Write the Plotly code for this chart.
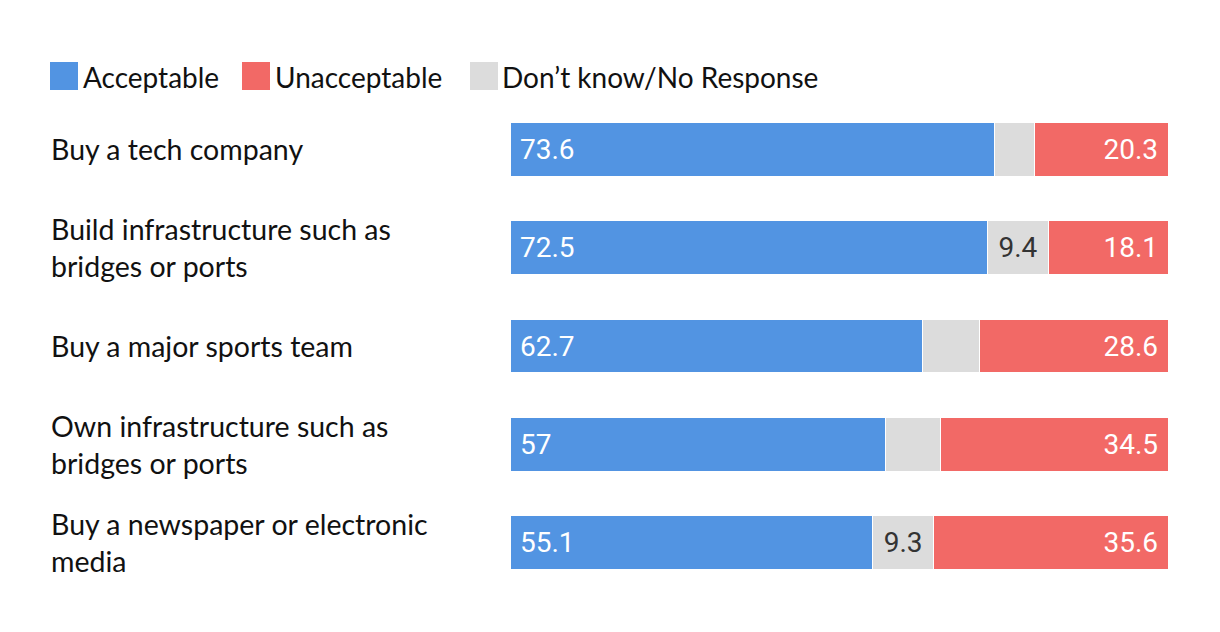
import plotly.graph_objects as go

categories = [
    "Buy a tech company",
    "Build infrastructure such as<br>bridges or ports",
    "Buy a major sports team",
    "Own infrastructure such as<br>bridges or ports",
    "Buy a newspaper or electronic<br>media",
]
acceptable = [73.6, 72.5, 62.7, 57, 55.1]
dont_know = [6.1, 9.4, 8.7, 8.5, 9.3]
unacceptable = [20.3, 18.1, 28.6, 34.5, 35.6]
series_names = ["Acceptable", "Unacceptable", "Don’t know/No Response"]

BLUE = "#5294E2"
RED = "#F26966"
GRAY = "#DCDCDC"
NB = "\u00a0"
LABEL_FONT = "Lato, 'Noto Sans', sans-serif"
NUM_FONT = "'Liberation Sans Narrow', Roboto, sans-serif"

W, H = 1220, 632
ML, MR, MT, MB = 510, 52, 100, 40
PW, PH = W - ML - MR, H - MT - MB


def px_x(X):
    return (X - ML) / PW


def px_y(Y):
    return (H - MB - Y) / PH


fig = go.Figure()
fig.add_trace(go.Bar(
    y=categories, x=acceptable, orientation="h", name=series_names[0],
    marker=dict(color=BLUE, line=dict(color="white", width=1)),
    text=[f"{NB}{v:g}" for v in acceptable], textposition="inside",
    insidetextanchor="start", textfont=dict(color="white", size=28, family=NUM_FONT),
    hoverinfo="x+name",
))
fig.add_trace(go.Bar(
    y=categories, x=dont_know, orientation="h", name=series_names[2],
    marker=dict(color=GRAY, line=dict(color="white", width=1)),
    text=[f"{v:g}" if v >= 9 else "" for v in dont_know], textposition="inside",
    insidetextanchor="middle", textfont=dict(color="#333333", size=28, family=NUM_FONT),
    hoverinfo="x+name",
))
fig.add_trace(go.Bar(
    y=categories, x=unacceptable, orientation="h", name=series_names[1],
    marker=dict(color=RED, line=dict(color="white", width=1)),
    text=[f"{v:g}{NB}" for v in unacceptable], textposition="inside",
    insidetextanchor="end", textfont=dict(color="white", size=28, family=NUM_FONT),
    hoverinfo="x+name",
))

# category labels (left column)
for c in categories:
    fig.add_annotation(
        x=px_x(49), xref="paper", y=c, yref="y", text=c, showarrow=False,
        xanchor="left", yanchor="middle", align="left",
        font=dict(size=28.5, color="#111111", family=LABEL_FONT),
    )

# custom legend with large square swatches
legend_items = [(series_names[0], BLUE, 50, 84),
                (series_names[1], RED, 242, 276),
                (series_names[2], GRAY, 470, 503)]
shapes = []
for name, col, sx, tx in legend_items:
    shapes.append(dict(type="rect", xref="paper", yref="paper",
                       x0=px_x(sx), x1=px_x(sx + 28), y0=px_y(90), y1=px_y(62),
                       fillcolor=col, line=dict(width=0)))
    fig.add_annotation(
        x=px_x(tx - 3), xref="paper", y=px_y(77), yref="paper", text=name,
        showarrow=False, xanchor="left", yanchor="middle",
        font=dict(size=28, color="#111111", family=LABEL_FONT),
    )

fig.update_layout(
    barmode="stack", bargap=0.452,
    width=W, height=H,
    margin=dict(l=ML, r=MR, t=MT, b=MB),
    paper_bgcolor="white", plot_bgcolor="white",
    xaxis=dict(range=[0, 100], visible=False, fixedrange=True),
    yaxis=dict(autorange="reversed", showticklabels=False, showgrid=False,
               zeroline=False, showline=False, ticks=""),
    shapes=shapes,
    showlegend=False,
)

fig.write_html("out.html", config={"displayModeBar": False},
               post_script="document.body.style.margin='0';")
